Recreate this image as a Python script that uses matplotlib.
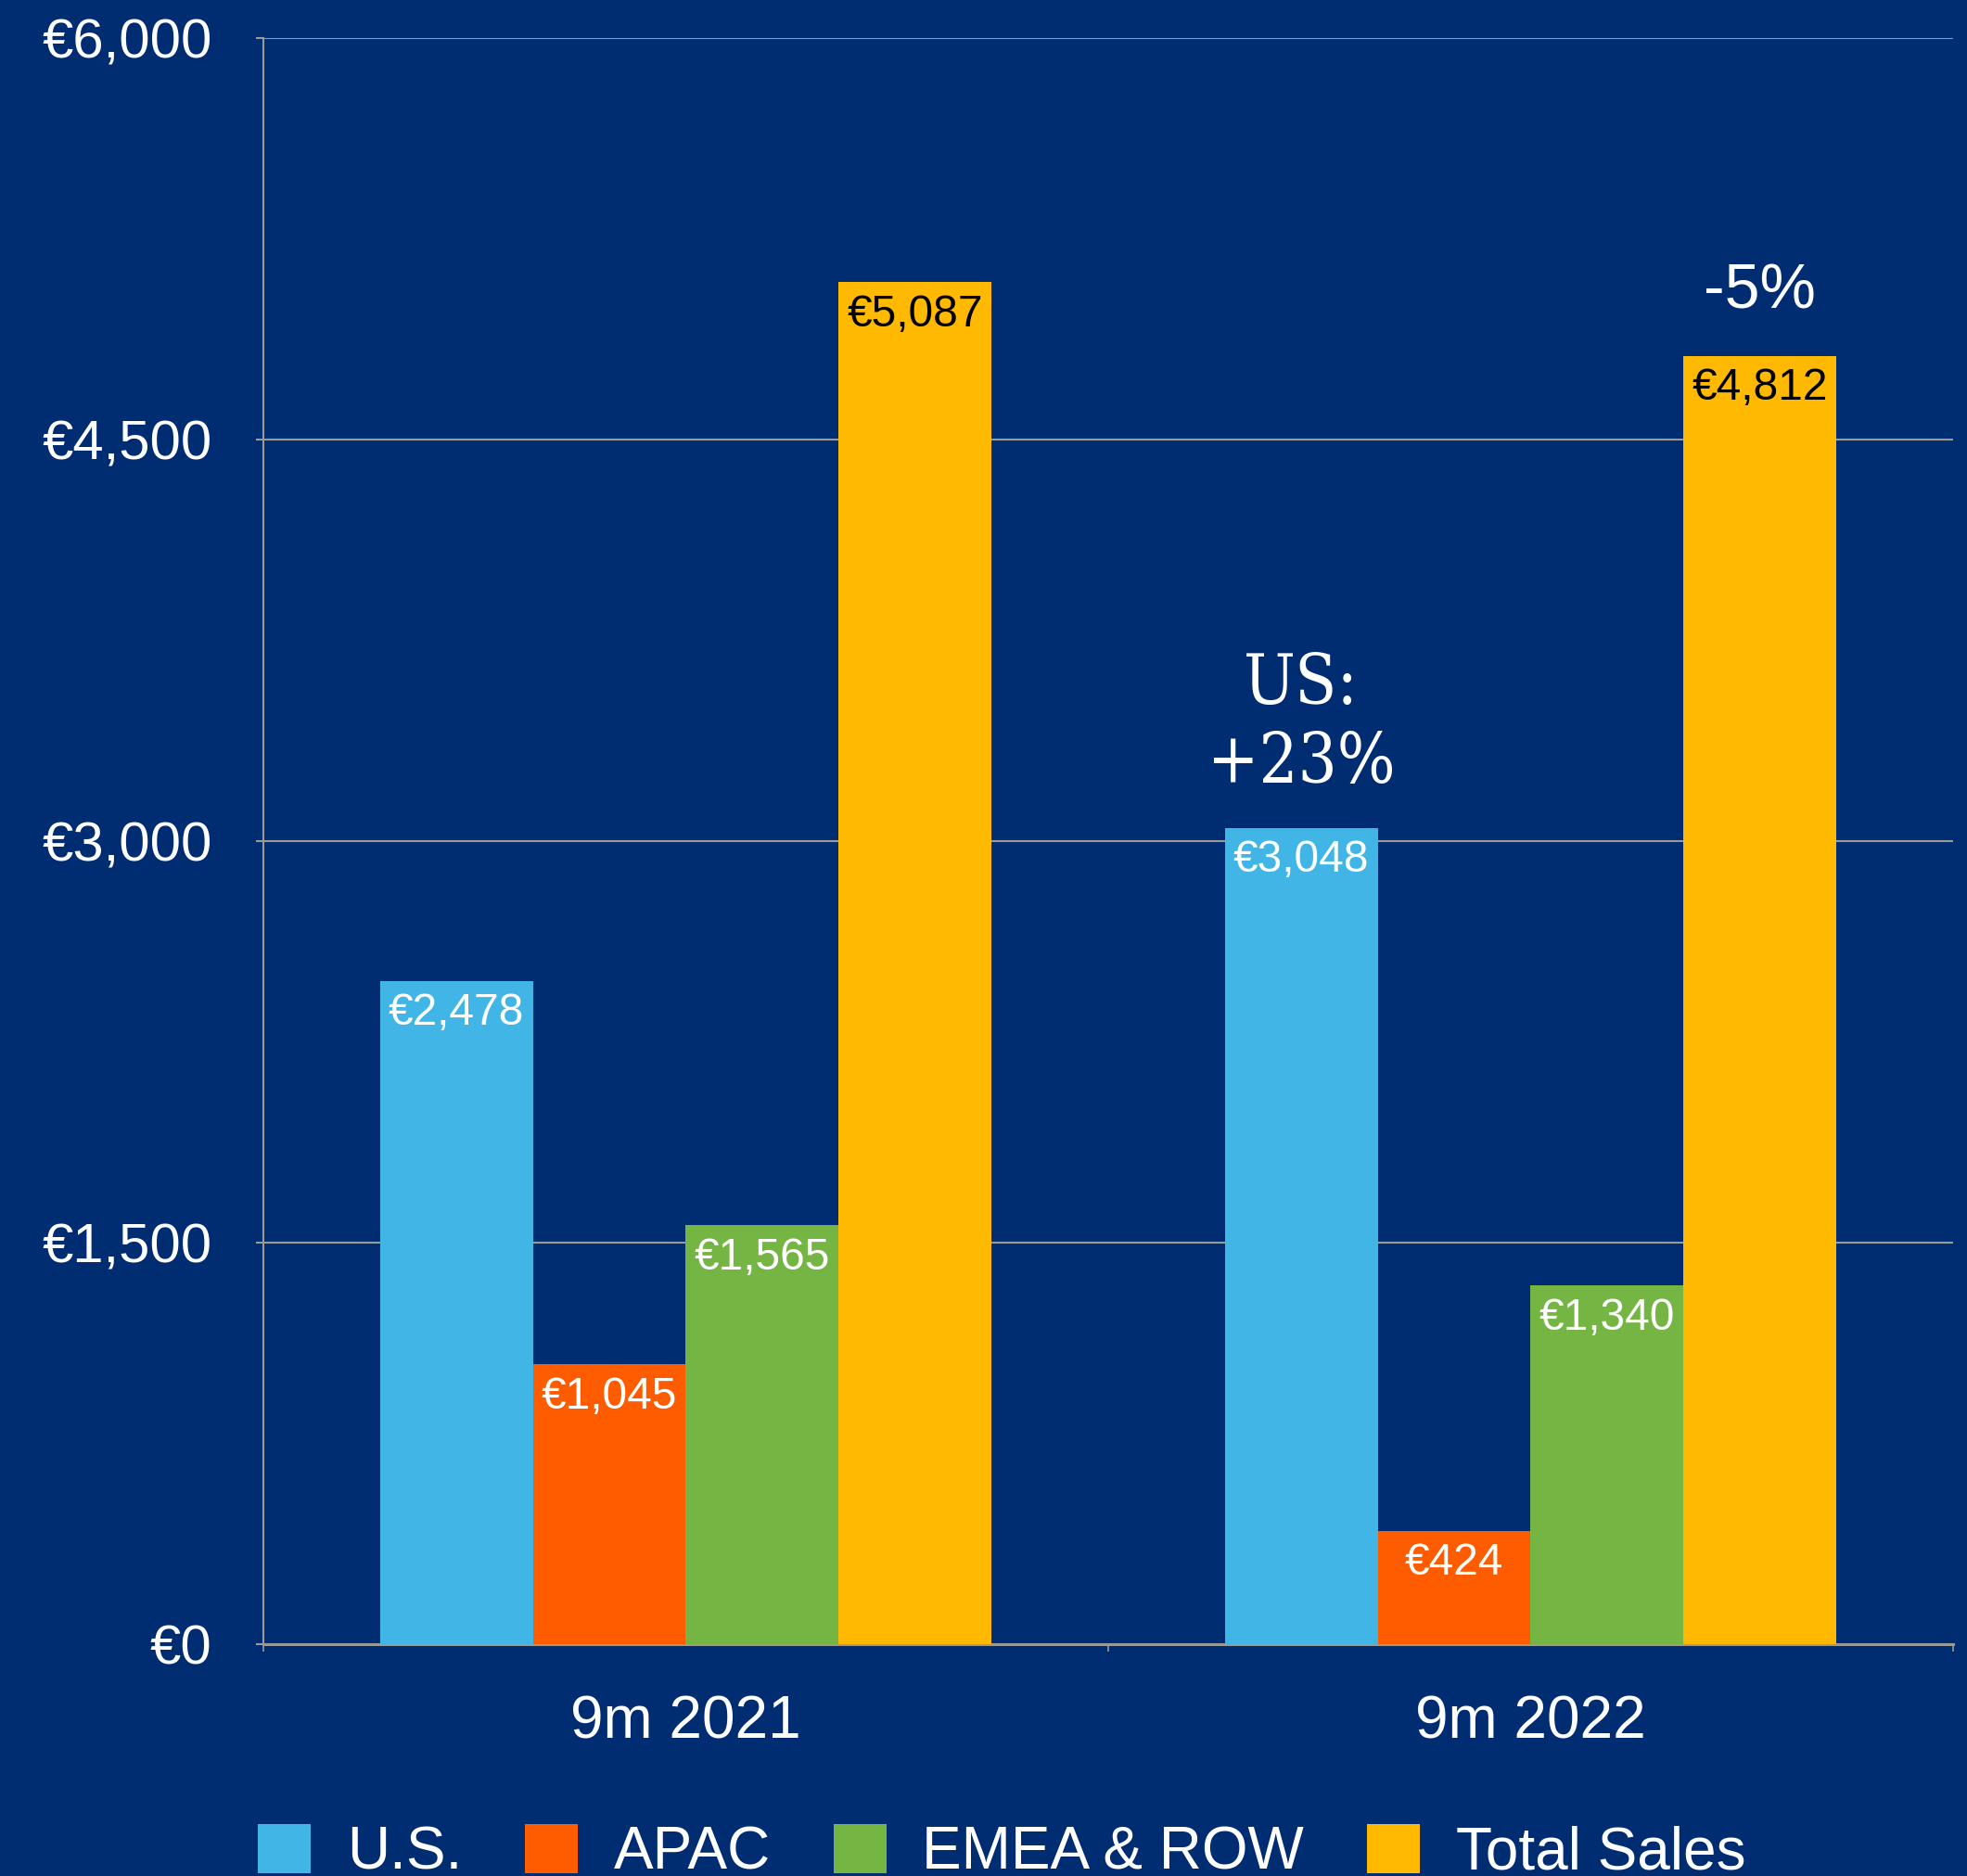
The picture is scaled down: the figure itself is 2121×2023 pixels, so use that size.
import matplotlib
matplotlib.use("Agg")
import matplotlib.pyplot as plt
import numpy as np
from matplotlib.ticker import FuncFormatter

plt.rcParams['font.family'] = ['Liberation Sans', 'DejaVu Sans']

# data
periods = ['9m 2021', '9m 2022']
series = ['U.S.', 'APAC', 'EMEA & ROW', 'Total Sales']
us = [2478, 3048]
apac = [1045, 424]
emea = [1565, 1340]
total = [5087, 4812]
yticks = [0, 1500, 3000, 4500, 6000]

bg = '#002D72'
colors = ['#41B6E6', '#FF5C00', '#74B543', '#FFB900']
label_colors = ['white', 'white', 'white', 'black']
grid_c = '#9a9a9a'

fig = plt.figure(figsize=(21.21, 20.23), dpi=100, facecolor=bg)
ax = fig.add_axes([0.1339, 0.1236, 0.859, 0.8563])
ax.set_facecolor(bg)

x = np.arange(len(periods))
w = 0.181
bars = []
for i, (vals, col, lc) in enumerate(zip([us, apac, emea, total], colors, label_colors)):
    b = ax.bar(x + (i - 1.5) * w, vals, w, color=col, label=series[i], zorder=3)
    bars.append(b)
    for rect, v in zip(b, vals):
        ax.annotate('€{:,}'.format(v), (rect.get_x() + rect.get_width() / 2, v),
                    xytext=(0, -9), textcoords='offset points', ha='center', va='top',
                    fontsize=34.5, color=lc, zorder=4)

# annotations above 2022 bars
us_rect = bars[0][1]
ax.annotate('US:\n+23%', (us_rect.get_x() + us_rect.get_width() / 2, us[1]),
            xytext=(0, 24), textcoords='offset points', ha='center', va='bottom',
            fontsize=53, color='white', family='DejaVu Serif', fontstretch='condensed',
            linespacing=1.2)
tot_rect = bars[3][1]
ax.annotate('-5%', (tot_rect.get_x() + tot_rect.get_width() / 2, total[1]),
            xytext=(0, 27), textcoords='offset points', ha='center', va='bottom',
            fontsize=49, color='white')

ax.set_xlim(-0.5, 1.5)
ax.set_ylim(0, 6000)
ax.set_yticks(yticks)
ax.yaxis.set_major_formatter(FuncFormatter(lambda v, p: '€{:,.0f}'.format(v)))
ax.grid(axis='y', color=grid_c, linewidth=1.5, zorder=0)

ax.set_xticks([-0.5, 0.5, 1.5])
ax.set_xticklabels([])
ax.set_xticks(x, minor=True)
ax.set_xticklabels(periods, minor=True)
ax.tick_params(axis='x', which='major', length=6, width=1.2, color=grid_c, direction='out')
ax.tick_params(axis='x', which='minor', length=0, pad=39, labelsize=46, labelcolor='white')
ax.tick_params(axis='y', length=6, width=1.5, color=grid_c, pad=34, labelsize=43, labelcolor='white')

for s in ['top', 'right']:
    ax.spines[s].set_visible(False)
ax.spines['left'].set_color(grid_c)
ax.spines['left'].set_linewidth(1.5)
ax.spines['bottom'].set_color(grid_c)
ax.spines['bottom'].set_linewidth(2.2)

# legend sits at the bottom edge and is partly cut off, as in the original
leg = fig.legend(handles=bars, labels=series, loc='upper left', bbox_to_anchor=(0.131, 0.0275),
                 ncol=4, frameon=False, fontsize=46, labelcolor='white',
                 handlelength=0.9, handleheight=0.9, handletextpad=0.6,
                 columnspacing=1.06, borderpad=0, borderaxespad=0)

fig.savefig('out.png', dpi=100, facecolor=bg)
